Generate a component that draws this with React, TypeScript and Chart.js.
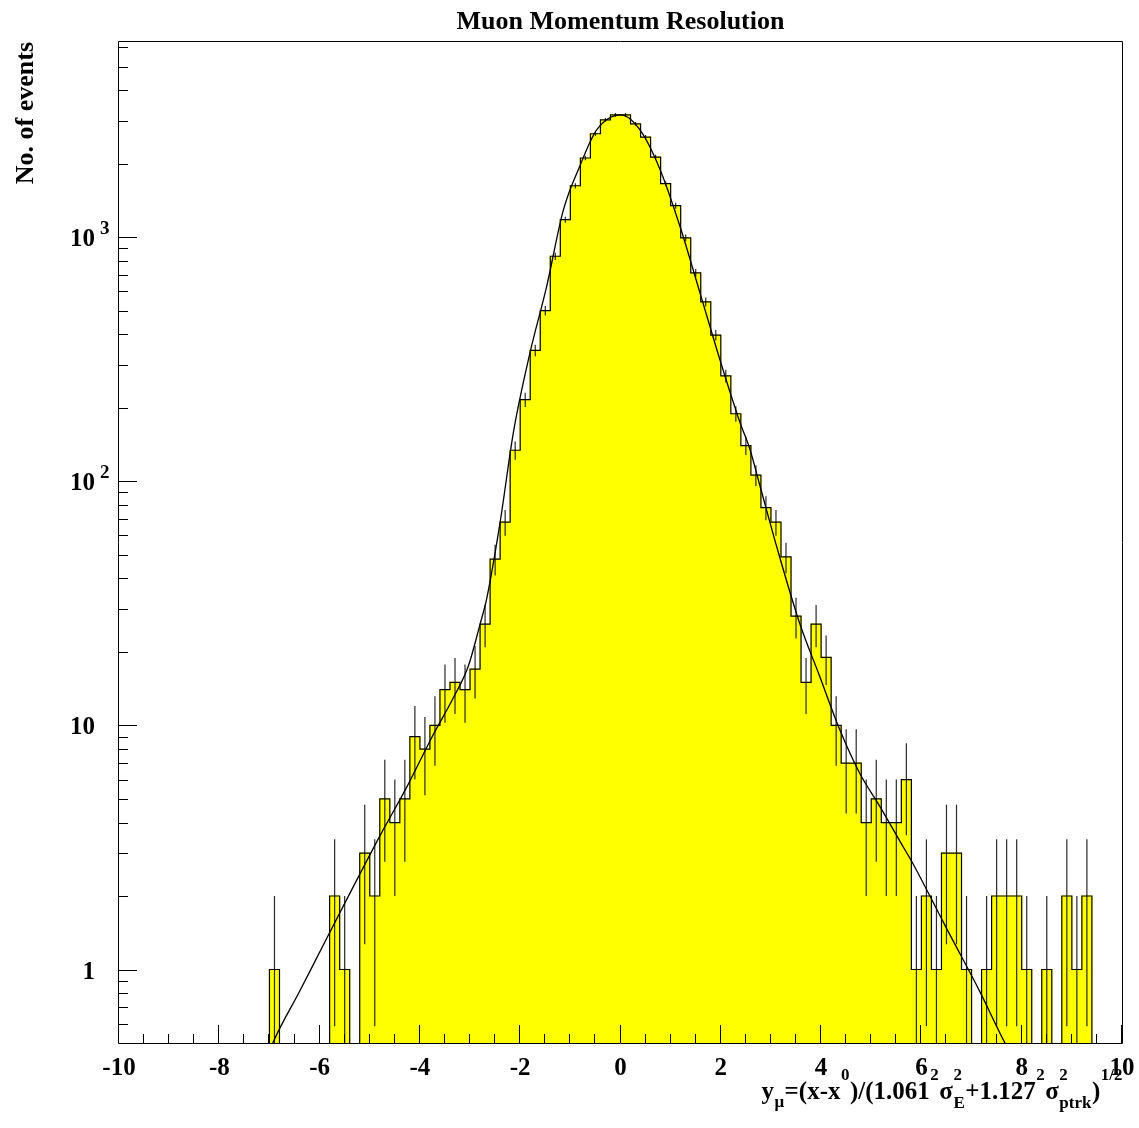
import React, { useEffect, useRef } from "react";
import { Chart, registerables } from "chart.js";

Chart.register(...registerables);

// ---- axis ranges ----
const X_MIN = -10;
const X_MAX = 10;
const BIN_WIDTH = 0.2;
const Y_MIN = 0.5;
const Y_MAX = 6300;
const FLOOR = 0.05; // value used for empty bins on the log axis (below visible range)

// ---- histogram counts: 100 bins of width 0.2 from -10 to 10 ----
const COUNTS = [
  0, 0, 0, 0, 0, 0, 0, 0, 0, 0,
  0, 0, 0, 0, 0, 1, 0, 0, 0, 0,
  0, 2, 1, 0, 3, 2, 5, 4, 5, 9,
  8, 10, 14, 15, 14, 17, 26, 48, 68, 134,
  216, 344, 500, 835, 1179, 1624, 2109, 2651, 3024, 3170,
  3170, 2912, 2570, 2128, 1655, 1345, 993, 714, 543, 397,
  270, 189, 140, 106, 78, 68, 49, 28, 15, 26,
  19, 10, 7, 7, 4, 5, 4, 4, 6, 1,
  2, 1, 3, 3, 1, 0, 1, 2, 2, 2,
  1, 0, 1, 0, 2, 1, 2, 0, 0, 0,
];

// ---- fitted curve ----
const FIT_X = [
  -7.0, -6.92, -6.39, -5.86, -5.33, -4.8, -4.26, -3.73, -3.33, -3.03,
  -2.8, -2.67, -2.4, -2.137, -1.805, -1.472, -1.14, -0.808, -0.475, 0.01,
  0.389, 0.788, 1.187, 1.585, 1.984, 2.383, 2.582, 2.782, 3.114, 3.567,
  3.966, 4.365, 4.764, 5.174, 5.573, 5.838, 6.17, 6.504, 7.168, 7.667, 7.8,
];
const FIT_Y = [
  0.46, 0.507, 0.82, 1.34, 2.18, 3.52, 5.6, 9.2, 13.0, 17.6,
  26, 32.9, 68, 158, 336, 629, 1290, 1962, 2749, 3170,
  2749, 1893, 1105, 591, 314, 174, 135, 95.6, 54, 26.4,
  16.0, 9.68, 6.4, 4.65, 3.35, 2.7, 2.0, 1.47, 0.81, 0.5, 0.45,
];

// ---- ticks and labels ----
const X_TICK_LABELS = ["-10", "-8", "-6", "-4", "-2", "0", "2", "4", "6", "8", "10"];
const X_TICK_VALUES = [-10, -8, -6, -4, -2, 0, 2, 4, 6, 8, 10];
const X_MINOR_STEP = 0.5;
const Y_LABEL_VALUES = [1, 10, 100, 1000];
const Y_LABEL_BASE = ["1", "10", "10", "10"];
const Y_LABEL_EXP = ["", "", "2", "3"];
const Y_DECADES = [0.1, 1, 10, 100, 1000];

const TITLE = "Muon Momentum Resolution";
const Y_TITLE = "No. of events";
// x title pieces: [text, kind, stacked-sub]  kind: n = normal, sup, sub, supsub
const X_TITLE_PARTS: [string, string, string?][] = [
  ["y", "n"],
  ["\u03bc", "sub"],
  ["=(x-x", "n"],
  ["0", "sup"],
  [")/(1.061", "n"],
  ["2", "sup"],
  ["\u03c3", "n"],
  ["2", "supsub", "E"],
  ["+1.127", "n"],
  ["2", "sup"],
  ["\u03c3", "n"],
  ["2", "supsub", "ptrk"],
  [")", "n"],
  ["1/2", "sup"],
];

const FONT = '"Liberation Serif", "Times New Roman", serif';

const rootAxesPlugin = {
  id: "rootAxes",
  afterDraw(chart: any) {
    const { ctx, chartArea: a, scales } = chart;
    const xs = scales.x;
    const ys = scales.y;
    ctx.save();
    ctx.strokeStyle = "#000";
    ctx.lineWidth = 1;

    // frame
    ctx.beginPath();
    ctx.moveTo(a.left - 0.5, a.top - 0.5);
    ctx.lineTo(a.right + 0.5, a.top - 0.5);
    ctx.lineTo(a.right + 0.5, a.bottom + 0.5);
    ctx.lineTo(a.left - 0.5, a.bottom + 0.5);
    ctx.closePath();
    ctx.stroke();

    // y ticks (inside)
    ctx.beginPath();
    for (const d of Y_DECADES) {
      for (let m = 1; m <= 9; m++) {
        const v = d * m;
        if (v < Y_MIN || v > Y_MAX) continue;
        const py = Math.round(ys.getPixelForValue(v)) + 0.5;
        const len = m === 1 ? 18 : 9;
        ctx.moveTo(a.left, py);
        ctx.lineTo(a.left + len, py);
      }
    }
    ctx.stroke();

    // x ticks (inside, pointing up)
    ctx.beginPath();
    const nMinor = Math.round((X_MAX - X_MIN) / X_MINOR_STEP);
    for (let i = 0; i <= nMinor; i++) {
      const v = X_MIN + i * X_MINOR_STEP;
      const px = Math.round(xs.getPixelForValue(v)) - 0.5;
      const major = X_TICK_VALUES.some((t) => Math.abs(t - v) < 1e-9);
      const len = major ? 18 : 9;
      ctx.moveTo(px, a.bottom);
      ctx.lineTo(px, a.bottom - len);
    }
    ctx.stroke();

    ctx.fillStyle = "#000";
    // x labels
    ctx.font = `bold 25px ${FONT}`;
    ctx.textAlign = "center";
    ctx.textBaseline = "alphabetic";
    X_TICK_VALUES.forEach((v, i) => {
      ctx.fillText(X_TICK_LABELS[i], xs.getPixelForValue(v), a.bottom + 32);
    });

    // y labels
    Y_LABEL_VALUES.forEach((v, i) => {
      const py = ys.getPixelForValue(v);
      ctx.font = `bold 25px ${FONT}`;
      ctx.textAlign = "right";
      ctx.fillText(Y_LABEL_BASE[i], a.left - 24, py + 9);
      if (Y_LABEL_EXP[i]) {
        ctx.font = `bold 19px ${FONT}`;
        ctx.textAlign = "left";
        ctx.fillText(Y_LABEL_EXP[i], a.left - 19, py - 3);
      }
    });

    // title
    ctx.font = `bold 26px ${FONT}`;
    ctx.textAlign = "center";
    ctx.fillText(TITLE, (a.left + a.right) / 2, 29);

    // y title (rotated)
    ctx.save();
    ctx.translate(33, a.top);
    ctx.rotate(-Math.PI / 2);
    ctx.textAlign = "right";
    ctx.font = `bold 26px ${FONT}`;
    ctx.fillText(Y_TITLE, 0, 0);
    ctx.restore();

    // x title with sub/superscripts, right aligned at frame right
    const big = `bold 25px ${FONT}`;
    const small = `bold 17px ${FONT}`;
    const widthOf = (t: string, f: string) => {
      ctx.font = f;
      return ctx.measureText(t).width;
    };
    const partWidth = (p: [string, string, string?]) => {
      if (p[1] === "n") return widthOf(p[0], big);
      if (p[1] === "supsub") return Math.max(widthOf(p[0], small), widthOf(p[2] || "", small)) + 1;
      return widthOf(p[0], small) + 1;
    };
    const total = X_TITLE_PARTS.reduce((s, p) => s + partWidth(p), 0);
    let x = a.right + 1 - total;
    const base = 1099;
    ctx.textAlign = "left";
    for (const p of X_TITLE_PARTS) {
      const w = partWidth(p);
      if (p[1] === "n") {
        ctx.font = big;
        ctx.fillText(p[0], x, base);
      } else if (p[1] === "sup") {
        ctx.font = small;
        ctx.fillText(p[0], x + 0.5, base - 19);
      } else if (p[1] === "sub") {
        ctx.font = small;
        ctx.fillText(p[0], x + 0.5, base + 8);
      } else {
        ctx.font = small;
        ctx.fillText(p[0], x + 0.5, base - 19);
        ctx.fillText(p[2] || "", x + 0.5, base + 9);
      }
      x += w;
    }
    ctx.restore();
  },
};

export default function App() {
  const ref = useRef<HTMLCanvasElement>(null);

  useEffect(() => {
    const canvas = ref.current;
    if (!canvas) return;

    const centers = COUNTS.map((_, i) => X_MIN + (i + 0.5) * BIN_WIDTH);
    const barData = COUNTS.map((c, i) => ({ x: centers[i], y: c > 0 ? c : null }));
    const errData = COUNTS.map((c, i) => {
      if (c <= 0) return { x: centers[i], y: null as any };
      const e = Math.sqrt(c);
      return { x: centers[i], y: [Math.max(c - e, FLOOR), c + e] };
    });
    const stepData = COUNTS.map((c, i) => ({ x: X_MIN + i * BIN_WIDTH, y: c > 0 ? c : FLOOR }));
    stepData.push({ x: X_MAX, y: FLOOR });
    const fitData = FIT_X.map((x, i) => ({ x, y: FIT_Y[i] }));

    const chart = new Chart(canvas, {
      type: "bar",
      data: {
        datasets: [
          {
            type: "line",
            label: "fit",
            data: fitData,
            borderColor: "#000",
            borderWidth: 1.3,
            pointRadius: 0,
            cubicInterpolationMode: "monotone",
            fill: false,
            order: 1,
          } as any,
          {
            type: "line",
            label: "outline",
            data: stepData,
            borderColor: "#000",
            borderWidth: 1.2,
            pointRadius: 0,
            stepped: "before",
            fill: false,
            order: 2,
          } as any,
          {
            type: "bar",
            label: "errors",
            data: errData,
            backgroundColor: "#2a2a2a",
            borderWidth: 0,
            grouped: false,
            maxBarThickness: 1.2,
            categoryPercentage: 1,
            barPercentage: 1,
            inflateAmount: 0,
            clip: 0,
            order: 3,
          } as any,
          {
            type: "bar",
            label: "counts",
            data: barData,
            backgroundColor: "#ffff00",
            borderWidth: 0,
            grouped: false,
            categoryPercentage: 1,
            barPercentage: 1,
            inflateAmount: 0.6,
            clip: 0,
            order: 4,
          } as any,
        ],
      },
      options: {
        responsive: false,
        devicePixelRatio: 1,
        animation: false,
        layout: { padding: { left: 119, top: 42, right: 17, bottom: 85 } },
        scales: {
          x: {
            type: "linear",
            min: X_MIN,
            max: X_MAX,
            offset: false,
            display: false,
            ticks: { stepSize: 2 },
          },
          y: {
            type: "logarithmic",
            min: Y_MIN,
            max: Y_MAX,
            display: false,
          },
        },
        plugins: {
          legend: { display: false },
          tooltip: { enabled: false },
          title: { display: false },
        },
      },
      plugins: [rootAxesPlugin],
    } as any);

    return () => chart.destroy();
  }, []);

  return (
    <div style={{ position: "absolute", left: 0, top: 0, width: 1139, height: 1128, background: "#fff" }}>
      <canvas ref={ref} width={1139} height={1128} style={{ display: "block", width: 1139, height: 1128 }} />
    </div>
  );
}
